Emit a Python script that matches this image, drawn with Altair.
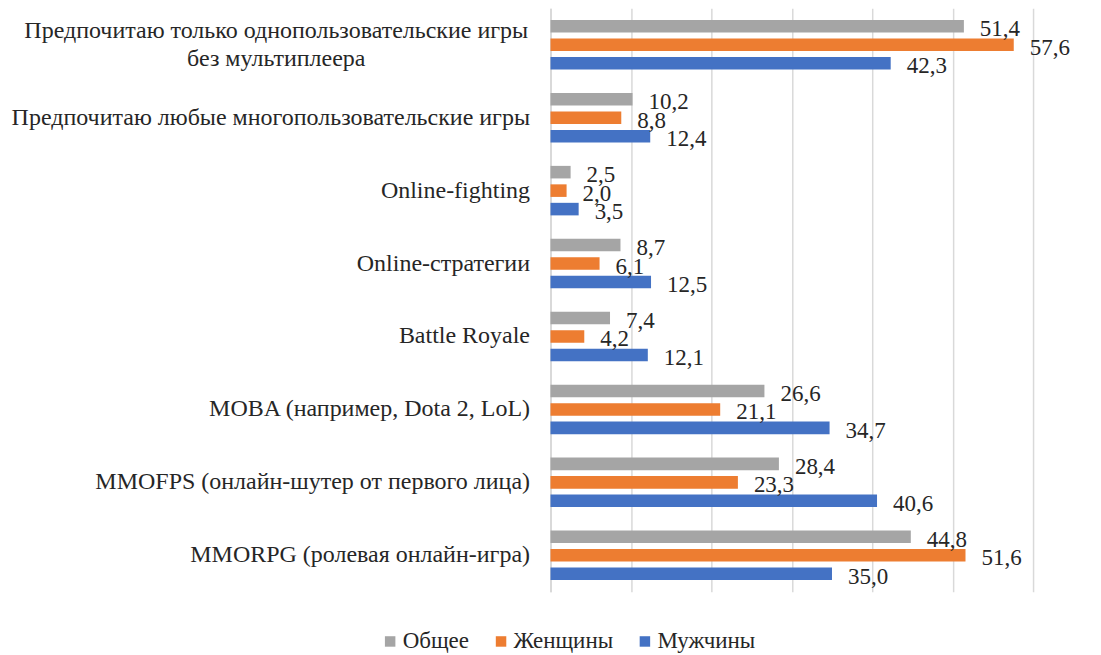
import altair as alt
import pandas as pd

categories = [
    "Предпочитаю только однопользовательские игры\nбез мультиплеера",
    "Предпочитаю любые многопользовательские игры",
    "Online-fighting",
    "Online-стратегии",
    "Battle Royale",
    "MOBA (например, Dota 2, LoL)",
    "MMOFPS (онлайн-шутер от первого лица)",
    "MMORPG (ролевая онлайн-игра)",
]
series = ["Общее", "Женщины", "Мужчины"]
obshee = [51.4, 10.2, 2.5, 8.7, 7.4, 26.6, 28.4, 44.8]
zhenshchiny = [57.6, 8.8, 2.0, 6.1, 4.2, 21.1, 23.3, 51.6]
muzhchiny = [42.3, 12.4, 3.5, 12.5, 12.1, 34.7, 40.6, 35.0]
colors = ["#A5A5A5", "#ED7D31", "#4472C4"]

rows = []
for s, vals in zip(series, [obshee, zhenshchiny, muzhchiny]):
    for c, v in zip(categories, vals):
        rows.append({"cat": c, "series": s, "value": v,
                     "label": f"{v:.1f}".replace(".", ",")})
df = pd.DataFrame(rows)

FONT = "Liberation Serif"
MULTI = "indexof(datum.value, '\\n') >= 0"

y_enc = alt.Y("cat:N", sort=categories, title=None,
              scale=alt.Scale(paddingInner=0.24, paddingOuter=0.12),
              axis=alt.Axis(labelExpr="split(datum.value, '\\n')",
                            labelFont=FONT, labelFontSize=24, labelColor="#262626",
                            labelPadding={"condition": {"test": MULTI, "value": 275}, "value": 21},
                            labelAlign={"condition": {"test": MULTI, "value": "center"}, "value": "right"},
                            labelOffset={"condition": {"test": MULTI, "value": -14}, "value": 0},
                            labelLineHeight=28, labelLimit=0,
                            ticks=False, domainColor="#D9D9D9", domainWidth=2))
yoff = alt.YOffset("series:N", sort=series,
                   scale=alt.Scale(paddingInner=0.32, paddingOuter=0.16))
x_enc = alt.X("value:Q", title=None,
              scale=alt.Scale(domain=[0, 60], nice=False),
              axis=alt.Axis(values=[0, 10, 20, 30, 40, 50, 60], labels=False,
                            ticks=False, domain=False, grid=True,
                            gridColor="#D9D9D9", gridWidth=1.5))

bars = alt.Chart(df).mark_bar().encode(
    y=y_enc, yOffset=yoff, x=x_enc,
    color=alt.Color("series:N", sort=series,
                    scale=alt.Scale(domain=series, range=colors),
                    legend=alt.Legend(title=None, orient="none", direction="horizontal",
                                      legendX=-172, legendY=622,
                                      symbolType="square", symbolSize=110,
                                      symbolStrokeWidth=0, labelFont=FONT,
                                      labelFontSize=23, labelColor="#262626",
                                      labelOffset=1, columnPadding=20)),
)

texts = alt.Chart(df).mark_text(align="left", baseline="middle", dx=16, dy=3,
                                font=FONT, fontSize=23, color="#262626").encode(
    y=alt.Y("cat:N", sort=categories), yOffset=alt.YOffset("series:N", sort=series),
    x="value:Q", text="label:N")

chart = (bars + texts).properties(
    width=483, height=584,
    autosize=alt.AutoSizeParams(type="none"),
    padding={"left": 543, "top": 0, "right": 60, "bottom": 62},
).configure_view(stroke=None)

chart.save("out.html", embed_options={"renderer": "svg", "actions": False})
